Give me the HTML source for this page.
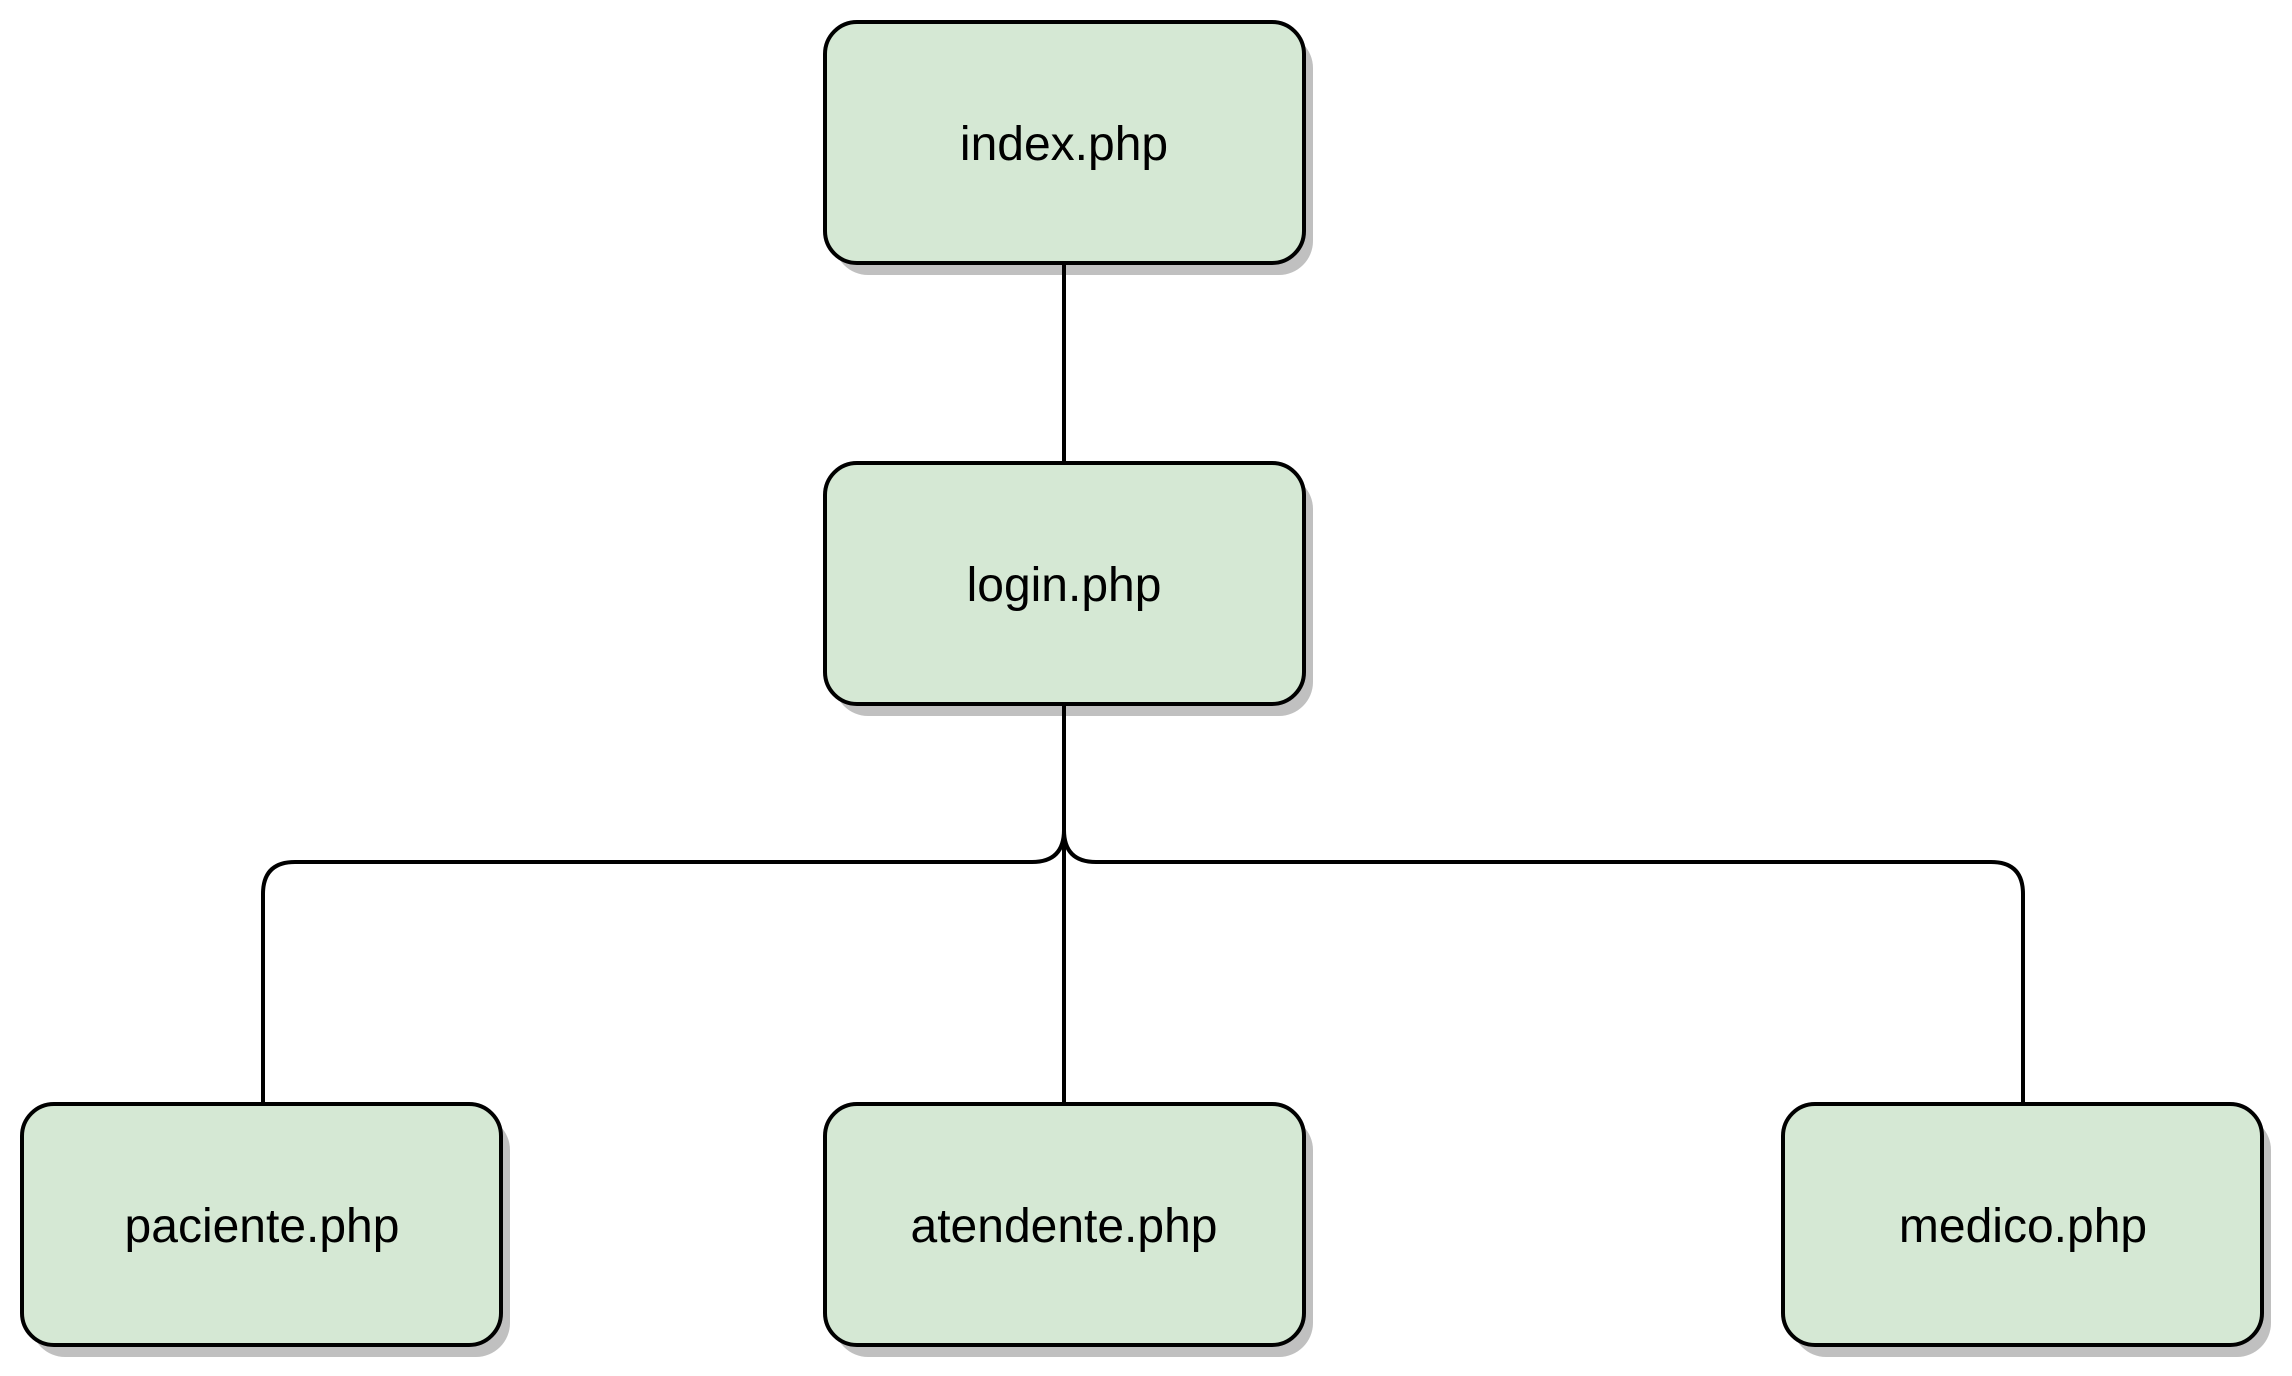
<!DOCTYPE html>
<html><head><style>
html,body{margin:0;padding:0;background:#fff;}
svg{display:block;}
text{font-family:"Liberation Sans",Arial,sans-serif;font-size:48px;fill:#000;}
</style></head><body>
<svg width="2292" height="1376" viewBox="0 0 2292 1376" xmlns="http://www.w3.org/2000/svg">
<g fill="#c0c0c0">
<rect x="834" y="34" width="479" height="241" rx="34"/>
<rect x="834" y="475" width="479" height="241" rx="34"/>
<rect x="31" y="1116" width="479" height="241" rx="34"/>
<rect x="834" y="1116" width="479" height="241" rx="34"/>
<rect x="1792" y="1116" width="479" height="241" rx="34"/>
</g>
<g fill="none" stroke="#000" stroke-width="4">
<line x1="1064" y1="262" x2="1064" y2="464"/>
<line x1="1064" y1="705" x2="1064" y2="1105"/>
<path d="M1064 830 Q1064 862 1032 862 L295 862 Q263 862 263 894 L263 1105"/>
<path d="M1064 830 Q1064 862 1096 862 L1991 862 Q2023 862 2023 894 L2023 1105"/>
</g>
<g fill="#d5e8d4" stroke="#000" stroke-width="4">
<rect x="825" y="22" width="479" height="241" rx="32"/>
<rect x="825" y="463" width="479" height="241" rx="32"/>
<rect x="22" y="1104" width="479" height="241" rx="32"/>
<rect x="825" y="1104" width="479" height="241" rx="32"/>
<rect x="1783" y="1104" width="479" height="241" rx="32"/>
</g>
<g text-anchor="middle">
<text x="1064" y="160">index.php</text>
<text x="1064" y="601">login.php</text>
<text x="262" y="1242">paciente.php</text>
<text x="1064" y="1242">atendente.php</text>
<text x="2023" y="1242">medico.php</text>
</g>
</svg>
</body></html>
